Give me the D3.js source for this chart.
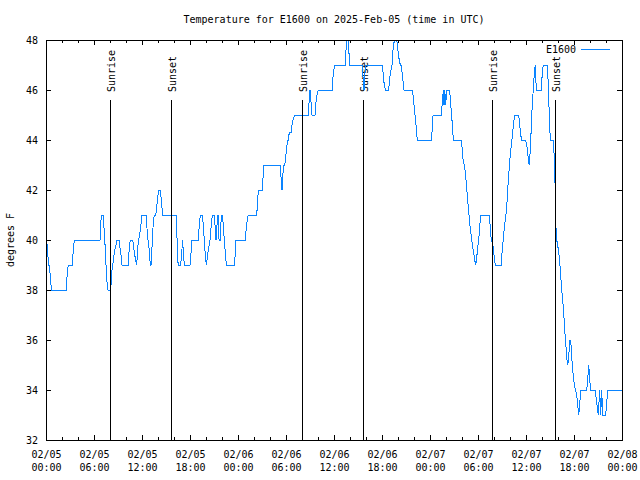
<!DOCTYPE html>
<html><head><meta charset="utf-8">
<script src="https://cdn.jsdelivr.net/npm/d3@7"></script>
<style>
html,body{margin:0;padding:0;background:#fff;}
svg{display:block;}
text{font-family:"DejaVu Sans Mono","Liberation Mono",monospace;font-size:10px;fill:#000;}
</style>
</head><body><svg id="c" width="640" height="480"></svg>
<script>
const chartTitle = "Temperature for E1600 on 2025-Feb-05 (time in UTC)";
const seriesName = "E1600";
const yAxisTitle = "degrees F";
const startUTC = Date.UTC(2025, 1, 5, 0, 0);
const spanHours = 72;

// hours after 2025-02-05 00:00 UTC
const hours = [
  0.06,0.19,0.31,0.44,0.56,0.69,2.54,2.66,2.79,3.29,3.41,3.54,
  6.75,6.84,6.96,7.16,7.25,7.38,7.5,7.63,7.75,8.09,8.21,8.34,8.59,8.71,8.84,9.13,9.25,9.38,9.5,
  10.29,10.41,10.54,10.84,10.96,11.09,11.34,11.46,11.59,11.84,11.96,
  12.5,12.59,12.75,12.91,13.04,13.13,13.25,13.41,13.54,13.71,13.84,13.96,14.09,14.34,14.38,14.5,14.59,
  16.25,16.34,16.41,16.5,16.59,16.84,16.96,17.09,17.16,17.29,18.0,18.13,18.25,
  19.04,19.16,19.29,19.54,19.66,19.79,19.91,20.04,20.16,20.34,20.5,20.66,20.79,21.0,21.13,21.25,21.38,21.5,21.63,21.79,21.91,22.04,22.16,22.29,22.41,22.54,
  23.59,23.71,24.91,25.04,25.16,25.29,26.34,26.44,26.54,27.04,27.15,27.25,
  29.29,29.38,29.5,29.6,29.71,29.84,29.96,30.09,30.21,30.29,30.41,30.63,30.75,30.88,31.09,
  32.79,32.88,33.0,33.13,33.25,33.63,33.75,33.88,34.04,
  35.79,35.91,36.09,37.41,37.5,37.63,37.75,37.85,37.96,
  39.5,39.63,39.75,39.88,40.0,
  42.0,42.13,42.25,42.41,42.84,42.96,43.13,43.25,43.38,43.5,43.63,43.79,43.91,44.04,44.29,44.41,44.54,44.75,
  45.75,45.88,46.0,46.13,46.25,46.41,
  48.16,48.25,48.38,49.41,49.54,49.66,49.75,49.84,49.96,50.09,50.46,50.59,50.71,50.84,50.96,
  51.91,52.04,52.16,52.29,52.41,52.54,52.66,52.79,52.91,53.04,53.16,53.29,53.46,53.59,53.71,53.84,53.96,54.09,54.21,54.34,
  55.41,55.54,55.66,55.79,55.91,56.04,56.16,
  56.91,57.04,57.16,57.29,57.41,57.59,57.71,57.84,57.96,58.09,58.21,58.34,58.46,58.59,59.09,59.21,59.34,59.46,
  59.96,60.09,60.21,60.29,60.41,60.54,60.66,60.79,60.91,61.04,61.16,61.25,61.34,61.91,62.04,62.16,62.66,62.79,62.91,63.04,
  63.41,63.5,63.59,63.71,63.75,63.84,63.96,64.09,64.21,64.34,64.46,64.59,64.71,64.84,64.96,65.09,65.21,65.34,65.46,65.59,65.71,65.84,65.96,66.09,66.21,66.34,66.46,66.59,66.71,66.84,
  67.59,67.71,67.84,67.96,68.09,68.66,68.79,68.91,69.04,69.21,69.34,69.46,69.59,69.96,70.09,70.21,72.0
];
// degrees F
const temps = [
  40,39.7,39,39,38.4,38,38,38.7,39,39,39.6,40,
  40,40.7,41,41,40.5,39.8,39,38.3,38,38,38.7,39,39.6,39.7,40,40,39.7,39.4,39,
  39,39.7,40,40,39.7,39.4,39,39.7,40,40.5,41,
  41,40.6,40,39.6,39,39,39.7,40.7,41,41,41.3,41.7,42,42,41.7,41.3,41,
  41,40.5,39.7,39.1,39,39,39.5,40,39.5,39,39,39.5,40,
  40,40.6,41,41,40.6,40,39.4,39,39.3,39.7,40,40.6,41,41,40.6,40,40.6,41,40,40,41,41,40.6,40,39.5,39,
  39,40,40,40.5,40.8,41,41,41.5,42,42,42.6,43,
  43,42.5,42,42.6,43,43,43.3,43.7,44,44,44.3,44.3,44.6,44.8,45,
  45,45.5,46,45.5,45,45,45.5,45.8,46,
  46,46.7,47,47,47.6,48,48,47.6,47,
  47,46.5,46,46.7,47,
  47,46.7,46.3,46,46,46.5,46.8,47,47.6,47.9,48,48,47.9,47.4,47,47,46.6,46,
  46,45.8,45.4,45,44.6,44,
  44,44.3,45,45,45.5,46,45.4,46,45.4,46,46,45.4,45,44.3,44,
  44,43.6,43.1,43,42.7,42.3,41.8,41.3,40.9,40.4,40.2,39.8,39.5,39.2,39,39.3,39.7,40,40.5,41,
  41,40.5,40,39.9,39.7,39.3,39,
  39,39.7,40,40.5,40.8,41.3,42,42.6,43.1,43.6,43.9,44.3,44.7,45,45,44.6,44.2,44,
  44,43.8,43.5,43.2,43,43.6,44.5,45.5,46,46.7,47,46.3,46,46,46.7,47,47,46.2,45,44,
  44,43.5,42.6,41.5,40.5,40,39.8,39.5,39.1,38.6,38,37.6,37.1,36.4,35.9,35.3,35,35.3,36,36,35.3,34.8,34.4,34.1,34,33.8,33.4,33,33.4,34,
  34,34.4,35,34.4,34,34,33.6,33.3,33,34,33,34,33,33,33.5,34,34
];

const sunriseHours = [8.03, 31.96, 55.75];
const sunsetHours = [15.66, 39.66, 63.66];
const sunLineTopTemp = 45.6;
const yTicks = [32, 34, 36, 38, 40, 42, 44, 46, 48];
const xMajorHours = [0, 6, 12, 18, 24, 30, 36, 42, 48, 54, 60, 66, 72];
const xMinorHours = [2, 4, 8, 10, 14, 16, 20, 22, 26, 28, 32, 34, 38, 40, 44, 46, 50, 52, 56, 58, 62, 64, 68, 70];

const lineColor = "#0a84ff";
const L = 46, R = 622, T = 40, B = 440;

const toDate = h => new Date(startUTC + h * 3600e3);
const x = d3.scaleUtc().domain([toDate(0), toDate(spanHours)]).range([L, R]);
const y = d3.scaleLinear().domain([32, 48]).range([B, T]);

const svg = d3.select("#c");
svg.append("rect").attr("width", 640).attr("height", 480).attr("fill", "#fff");

// title
svg.append("text").attr("x", (L + R) / 2).attr("y", 23).attr("text-anchor", "middle").text(chartTitle);
// y title
svg.append("text").attr("transform", `translate(14,${(T + B) / 2}) rotate(-90)`).attr("text-anchor", "middle").text(yAxisTitle);

const fmtDay = d3.utcFormat("%m/%d"), fmtTime = d3.utcFormat("%H:%M");

// axes
const gB = svg.append("g").attr("transform", `translate(0,${B})`)
  .call(d3.axisBottom(x).tickValues(xMajorHours.map(toDate)).tickSizeInner(-5).tickSizeOuter(0).tickFormat(() => ""));
gB.selectAll(".tick text").each(function(d) {
  const t = d3.select(this).attr("y", null).attr("dy", null);
  t.append("tspan").attr("x", 0).attr("y", 18).text(fmtDay(d));
  t.append("tspan").attr("x", 0).attr("y", 31).text(fmtTime(d));
});
svg.append("g").attr("transform", `translate(0,${B})`)
  .call(d3.axisBottom(x).tickValues(xMinorHours.map(toDate)).tickSizeInner(-3).tickSizeOuter(0).tickFormat(() => ""));
svg.append("g").attr("transform", `translate(0,${T})`)
  .call(d3.axisTop(x).tickValues(xMajorHours.map(toDate)).tickSizeInner(-5).tickSizeOuter(0).tickFormat(() => ""));
svg.append("g").attr("transform", `translate(0,${T})`)
  .call(d3.axisTop(x).tickValues(xMinorHours.map(toDate)).tickSizeInner(-3).tickSizeOuter(0).tickFormat(() => ""));
svg.append("g").attr("transform", `translate(${L},0)`)
  .call(d3.axisLeft(y).tickValues(yTicks).tickSizeInner(-5).tickSizeOuter(0).tickPadding(8).tickFormat(d3.format("d")));
svg.append("g").attr("transform", `translate(${R},0)`)
  .call(d3.axisRight(y).tickValues(yTicks).tickSizeInner(-5).tickSizeOuter(0).tickFormat(() => ""));

svg.selectAll(".domain").remove();
svg.selectAll("g text").attr("font-family", null).attr("font-size", null).attr("fill", "#000");
svg.selectAll(".tick line").attr("stroke", "#000").attr("shape-rendering", "crispEdges");

// sun labels (behind data)
const sunEvents = sunriseHours.map(h => ({h, label: "Sunrise"})).concat(sunsetHours.map(h => ({h, label: "Sunset"})));
svg.append("g").selectAll("text").data(sunEvents).join("text")
  .attr("transform", d => `translate(${Math.round(x(toDate(d.h))) + 5},92) rotate(-90)`)
  .attr("text-anchor", "start").text(d => d.label);

// data line
const pts = hours.map((h, i) => [h, temps[i]]);
svg.append("path").datum(pts)
  .attr("fill", "none").attr("stroke", lineColor).attr("stroke-width", 1)
  .attr("shape-rendering", "crispEdges")
  .attr("d", d3.line().x(d => x(toDate(d[0]))).y(d => y(d[1])));

// sun lines (front)
svg.append("g").selectAll("line").data(sunEvents).join("line")
  .attr("x1", d => Math.round(x(toDate(d.h))) + 0.5).attr("x2", d => Math.round(x(toDate(d.h))) + 0.5)
  .attr("y1", y(sunLineTopTemp)).attr("y2", y(32))
  .attr("stroke", "#000").attr("stroke-width", 1).attr("shape-rendering", "crispEdges");

// frame
svg.append("rect").attr("x", L + 0.5).attr("y", T + 0.5).attr("width", R - L).attr("height", B - T)
  .attr("fill", "none").attr("stroke", "#000").attr("shape-rendering", "crispEdges");

// legend
svg.append("text").attr("x", 576).attr("y", 53).attr("text-anchor", "end").text(seriesName);
svg.append("line").attr("x1", 581).attr("x2", 610).attr("y1", 49.5).attr("y2", 49.5)
  .attr("stroke", lineColor).attr("stroke-width", 1).attr("shape-rendering", "crispEdges");
</script>
</body></html>
